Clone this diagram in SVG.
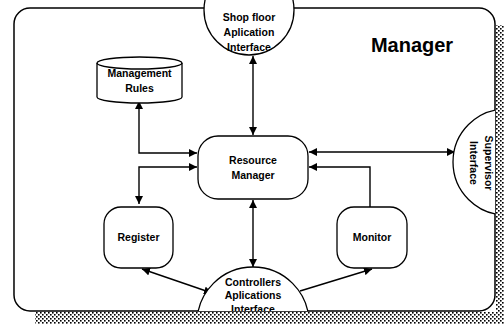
<svg xmlns="http://www.w3.org/2000/svg" width="504" height="324" viewBox="0 0 504 324">
<style>
.ln{fill:none;stroke:#000;stroke-width:1.4}
.nd{fill:#fff;stroke:#000;stroke-width:1.3}
.t{font-family:"Liberation Sans",Arial,sans-serif;font-weight:bold;font-size:10.5px;text-anchor:middle;fill:#000}
.title{font-family:"Liberation Sans",Arial,sans-serif;font-weight:bold;font-size:20px;text-anchor:middle;fill:#000}
</style>
<defs>
<pattern id="dots" width="4" height="4" patternUnits="userSpaceOnUse">
<rect width="4" height="4" fill="#fff"/>
<rect x="0" y="0" width="1.6" height="1.6" fill="#000"/>
<rect x="2" y="2" width="1.6" height="1.6" fill="#000"/>
</pattern>
<marker id="ah" viewBox="0 0 10 10" refX="10" refY="5" markerWidth="8" markerHeight="8" markerUnits="userSpaceOnUse" orient="auto-start-reverse">
<path d="M0,0 L10,5 L0,10 Z" fill="#000"/>
</marker>
<clipPath id="frameClip"><rect x="14" y="8" width="481" height="303" rx="16"/></clipPath>
</defs>
<rect width="504" height="324" fill="#fff"/>
<g id="shadow">
<rect x="496" y="25" width="8" height="299" fill="url(#dots)"/>
<rect x="35" y="312" width="469" height="12" fill="url(#dots)"/>
</g>
<g id="frame">
<rect x="14" y="8" width="481" height="303" rx="16" fill="#fff" stroke="#000" stroke-width="1.5"/>
<text class="title" x="412" y="52">Manager</text>
</g>
<g id="connectors">
<line class="ln" x1="253" y1="56" x2="253" y2="135" marker-start="url(#ah)" marker-end="url(#ah)"/>
<polyline class="ln" points="139,101 139,153 197,153" marker-start="url(#ah)" marker-end="url(#ah)"/>
<polyline class="ln" points="139,204 139,167 197,167" marker-start="url(#ah)" marker-end="url(#ah)"/>
<line class="ln" x1="309" y1="152" x2="455" y2="152" marker-start="url(#ah)" marker-end="url(#ah)"/>
<polyline class="ln" points="370,207 370,167 309,167" marker-end="url(#ah)"/>
<line class="ln" x1="253" y1="200" x2="253" y2="267" marker-start="url(#ah)" marker-end="url(#ah)"/>
<line class="ln" x1="142" y1="269" x2="212" y2="293" marker-start="url(#ah)" marker-end="url(#ah)"/>
<line class="ln" x1="300" y1="291" x2="372" y2="269" marker-end="url(#ah)"/>
</g>
<g id="shopfloor">
<circle class="nd" cx="249" cy="10" r="45"/>
<text class="t" x="249" y="21">Shop floor</text>
<text class="t" x="249" y="36">Aplication</text>
<text class="t" x="249" y="51">Interface</text>
</g>
<g id="rules">
<path class="nd" d="M97,63 A42.5,6 0 0 1 182,63 L182,97 A42.5,6 0 0 1 97,97 Z"/>
<path class="ln" d="M97,63 A42.5,6 0 0 0 182,63" stroke-width="1.3"/>
<text class="t" x="139.5" y="77">Management</text>
<text class="t" x="139.5" y="92">Rules</text>
</g>
<g id="resource">
<rect class="nd" x="198" y="136" width="110" height="63" rx="20"/>
<text class="t" x="253" y="164">Resource</text>
<text class="t" x="253" y="179">Manager</text>
</g>
<g id="register">
<rect class="nd" x="104" y="207" width="69" height="61" rx="17"/>
<text class="t" x="138.5" y="241">Register</text>
</g>
<g id="monitor">
<rect class="nd" x="337" y="207" width="70" height="61" rx="17"/>
<text class="t" x="372" y="241">Monitor</text>
</g>
<g id="supervisor" clip-path="url(#frameClip)">
<circle class="nd" cx="506" cy="162" r="53"/>
<text class="t" transform="translate(485,163) rotate(90)" x="0" y="0">Supervisor</text>
<text class="t" transform="translate(470,163) rotate(90)" x="0" y="0">Interface</text>
</g>
<g id="controllers" clip-path="url(#frameClip)">
<circle class="nd" cx="253" cy="323" r="56"/>
<text class="t" x="253" y="286">Controllers</text>
<text class="t" x="253" y="299">Aplications</text>
<text class="t" x="253" y="313">Interface</text>
</g>
</svg>
